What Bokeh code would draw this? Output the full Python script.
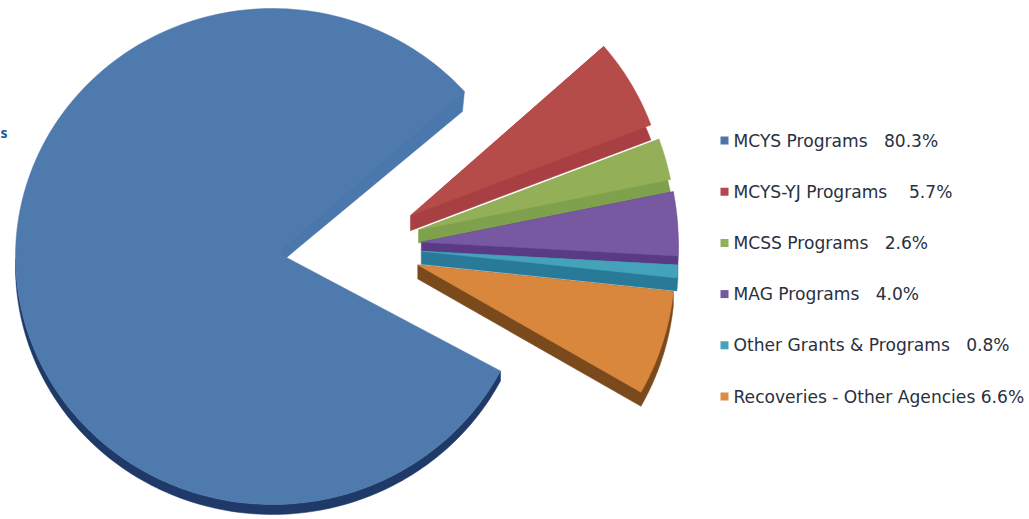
import math
from bokeh.plotting import figure
from bokeh.models import Range1d
from bokeh.core.properties import value
from bokeh.embed import file_html
from bokeh.resources import INLINE

NB = "\u00a0"
categories = ["MCYS Programs", "MCYS-YJ Programs", "MCSS Programs", "MAG Programs",
              "Other Grants & Programs", "Recoveries - Other Agencies"]
shares = [80.3, 5.7, 2.6, 4.0, 0.8, 6.6]
share_labels = ["80.3%", "5.7%", "2.6%", "4.0%", "0.8%", "6.6%"]
gaps = [3, 4, 3, 3, 3, 1]
top_colors = ["#4f7aad", "#b54c49", "#93b058", "#7659a0", "#44a2ba", "#d9873c"]
side_colors = ["#1f3a68", "#a83f42", "#7fa04c", "#5a3a84", "#287a98", "#7a4a1c"]
key_colors = ["#4a76ab", "#b04a4a", "#93b15a", "#75599b", "#45a0b8", "#dd8b45"]

W, H = 1029, 519
p = figure(width=W, height=H, output_backend="svg", toolbar_location=None,
           x_range=Range1d(0, W), y_range=Range1d(H, 0), min_border=0)
p.axis.visible = False
p.grid.visible = False
p.outline_line_color = None

# layout
AX, AY = 286.0, 257.0         # tip of the notch in the large slice
EX, EY, ERX, ERY = 272.0, 256.0, 257.0, 248.0   # its rim ellipse
START = 41.2                  # angle (deg) at which the small slices begin, clockwise
SMALL_R = 257.0
total = sum(shares)
degs = [s / total * 360 for s in shares]


def ray_to_ellipse(a_deg):
    a = math.radians(a_deg)
    ux, uy = math.cos(a), -math.sin(a)
    ox, oy = (AX - EX) / ERX, (AY - EY) / ERY
    dx, dy = ux / ERX, uy / ERY
    A = dx * dx + dy * dy
    B = 2 * (ox * dx + oy * dy)
    C = ox * ox + oy * oy - 1
    t = (-B + math.sqrt(B * B - 4 * A * C)) / (2 * A)
    return AX + t * ux, AY + t * uy


def patch(pts, color):
    p.patch([q[0] for q in pts], [q[1] for q in pts], fill_color=color,
            line_color=color, line_width=0.5)


# large slice: runs counter-clockwise from its upper corner
big_start, big_sweep = 43.0, degs[0]
rim = [ray_to_ellipse(big_start + big_sweep * i / 240) for i in range(241)]
c = rim[0]
# outer wall below the rim (from the leftmost point round to the lower corner)
wall = [q for i, q in enumerate(rim) if big_start + big_sweep * i / 240 >= 180]
patch(wall + [(q[0], q[1] + 10) for q in reversed(wall)], side_colors[0])
# top face, then the cut face along its upper edge
patch([(AX, AY)] + rim, top_colors[0])
patch([(AX, AY), (AX - 5, AY - 7), c, (c[0] - 2, c[1] + 20)], "#4a77ac")

# small exploded slices, drawn from top to bottom
a0 = START
depths = [15, 13, 9, 13, 14]
for i in range(1, 6):
    a1 = a0 - degs[i]
    mid = math.radians((a0 + a1) / 2)
    ax = AX + 1 + 134 * (0.42 + 0.58 * math.cos(mid))
    ay = AY - 1 - (10 + 60 * math.sin(mid))
    d = depths[i - 1]
    arc = []
    n = 24
    for k in range(n + 1):
        t = math.radians(a1 + (a0 - a1) * k / n)
        arc.append((ax + SMALL_R * math.cos(t), ay - SMALL_R * math.sin(t)))
    patch([(ax, ay), (ax, ay + d)] + [(q[0], q[1] + d) for q in arc] + [arc[-1]], side_colors[i])
    patch([(ax, ay)] + arc, top_colors[i])
    a0 = a1

# legend
y0, step = 140.0, 51.2
for i, cat in enumerate(categories):
    y = y0 + step * i
    p.scatter([724], [y], marker="square", size=8, fill_color=key_colors[i], line_color=None)
    txt = cat + NB * gaps[i] + share_labels[i]
    p.text([733], [y], text=[txt], text_font=value("DejaVu Sans"), text_font_size="17.1px",
           text_color="#2a3040", text_baseline="middle", text_align="left")

# letter at the page's left edge
p.text([0], [132], text=["s"], text_font=value("Open Sans"), text_font_size="14px",
       text_font_style="bold", text_color="#1558a8", text_baseline="middle")

open("out.html", "w").write(file_html(p, INLINE))
